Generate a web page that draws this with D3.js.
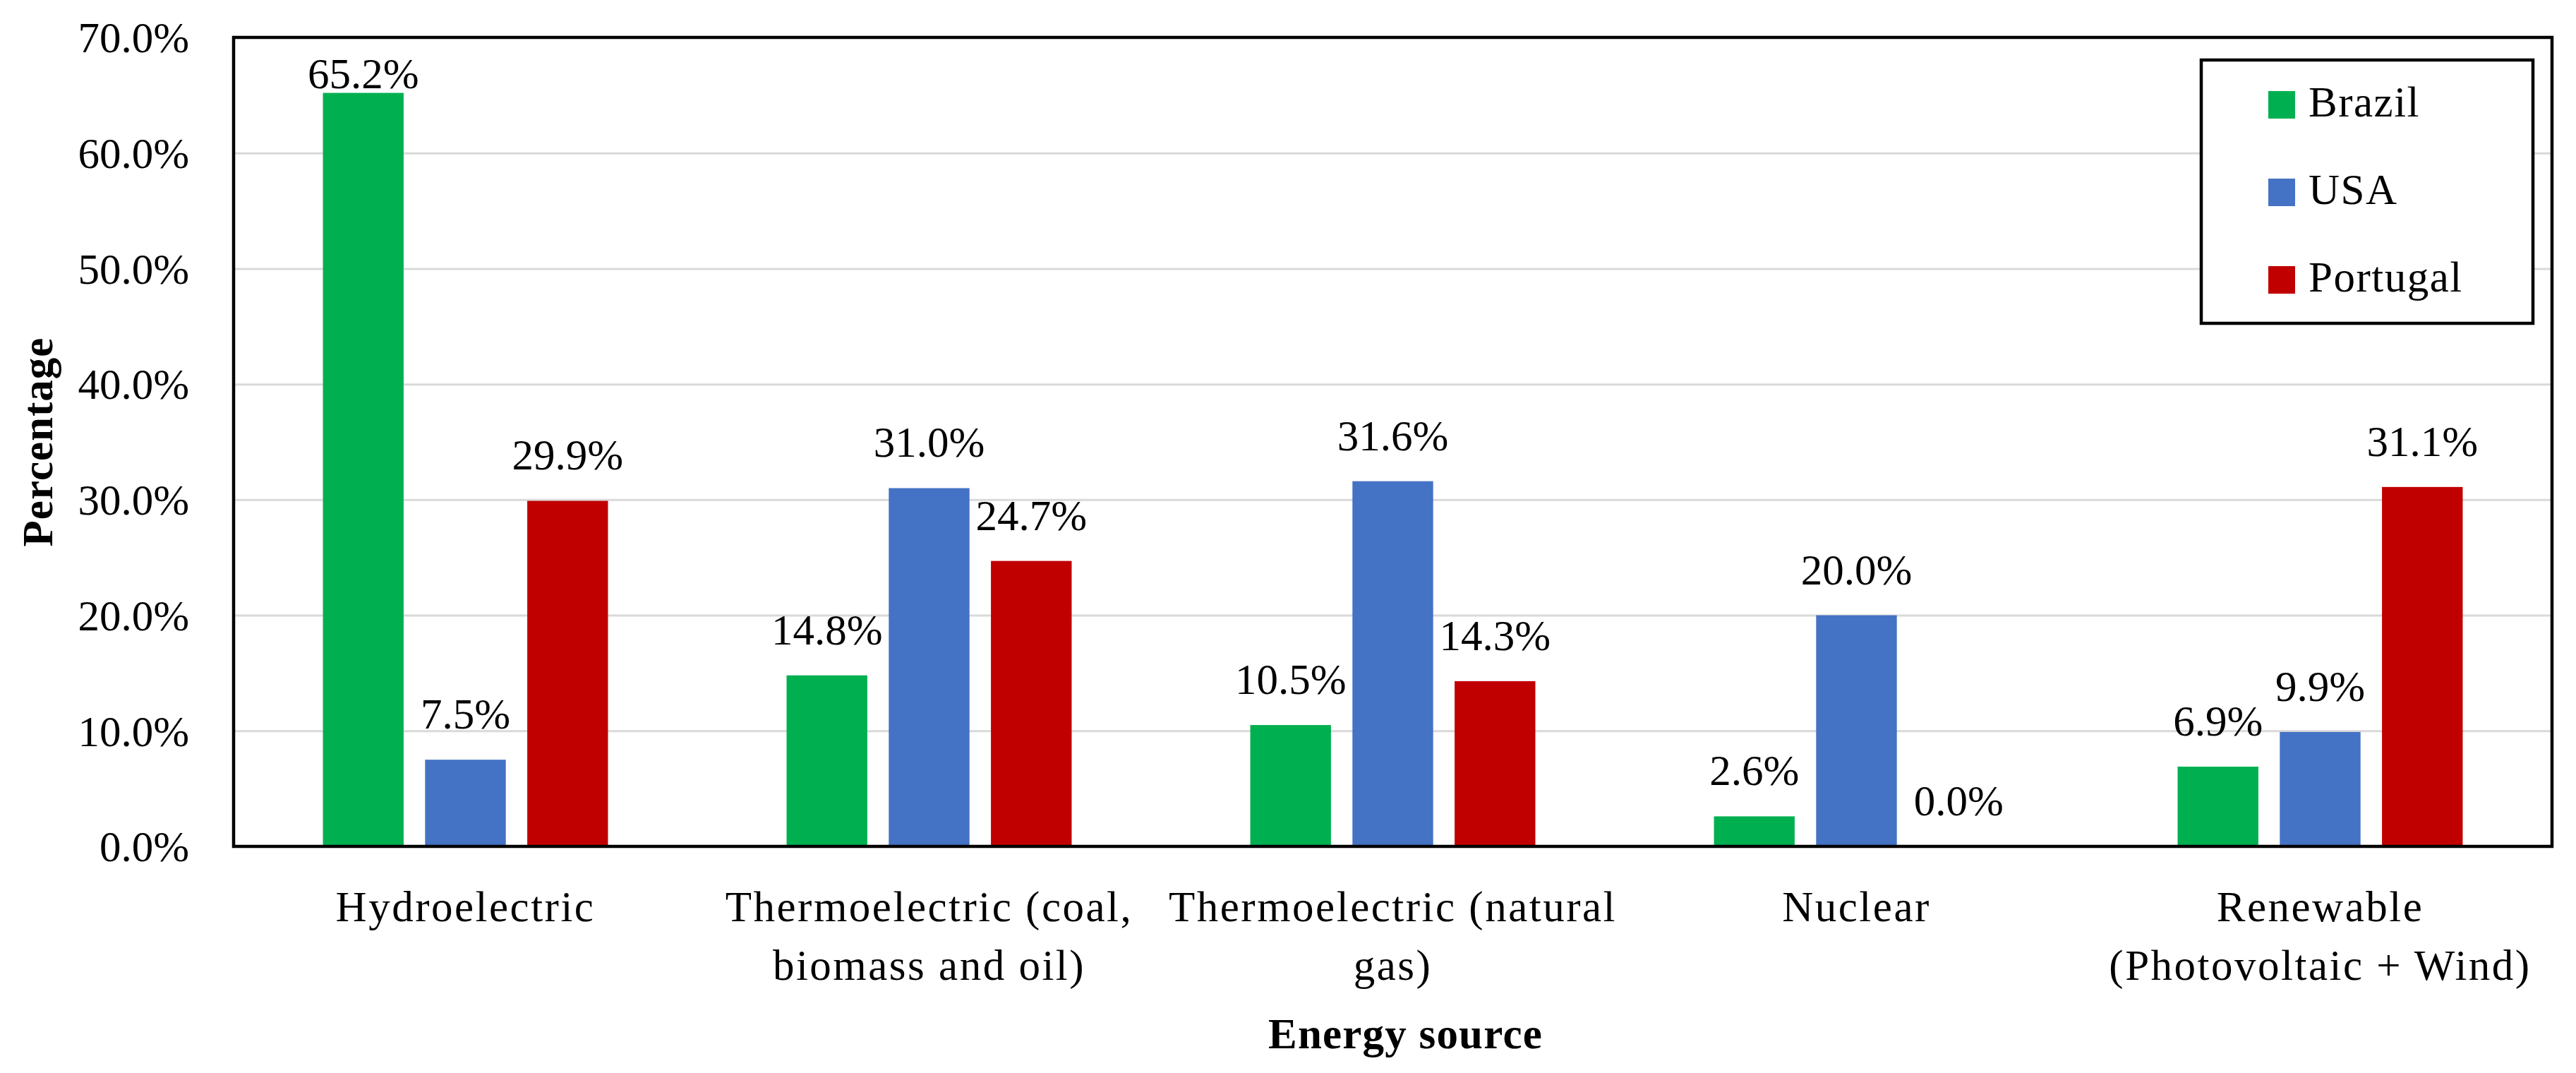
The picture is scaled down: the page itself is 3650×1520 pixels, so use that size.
<!DOCTYPE html>
<html>
<head>
<meta charset="utf-8">
<script src="https://cdn.jsdelivr.net/npm/d3@7"></script>
<style>
  body { margin: 0; background: #fff; }
  text { font-family: "Liberation Serif", "Times New Roman", serif; }
</style>
</head>
<body>
<svg id="chart"></svg>
<script>
// data
const categories = ["Hydroelectric", "Thermoelectric (coal, biomass and oil)", "Thermoelectric (natural gas)", "Nuclear", "Renewable (Photovoltaic + Wind)"];
const categoryLines = [["Hydroelectric"], ["Thermoelectric (coal,", "biomass and oil)"], ["Thermoelectric (natural", "gas)"], ["Nuclear"], ["Renewable", "(Photovoltaic + Wind)"]];
const series = ["Brazil", "USA", "Portugal"];
const brazil = [65.2, 14.8, 10.5, 2.6, 6.9];
const usa = [7.5, 31.0, 31.6, 20.0, 9.9];
const portugal = [29.9, 24.7, 14.3, 0.0, 31.1];
const yTicks = [0, 10, 20, 30, 40, 50, 60, 70];
const colors = ["#00B050", "#4472C4", "#C00000"];

const W = 3650, H = 1520;
const margin = { top: 53, right: 34, bottom: 321, left: 331 };
const FS = 61;

const svg = d3.select('#chart').attr('width', W).attr('height', H);

const values = [brazil, usa, portugal];
const rows = [];
categories.forEach((c, i) => {
  series.forEach((s, j) => rows.push({ cat: c, ser: s, v: values[j][i], color: colors[j] }));
});

const x0 = d3.scaleBand().domain(categories).range([margin.left, W - margin.right]).padding(0);
const x1 = d3.scaleBand().domain(series).range([0, x0.bandwidth()]).paddingInner(0.21).paddingOuter(0.874);
const y = d3.scaleLinear().domain([0, 70]).range([H - margin.bottom, margin.top]);

// gridlines
const grid = svg.append('g')
  .attr('transform', `translate(${margin.left},0)`)
  .call(d3.axisLeft(y).tickValues(yTicks).tickSize(-(W - margin.left - margin.right)).tickFormat(''));
grid.select('.domain').remove();
grid.selectAll('line').attr('stroke', '#d9d9d9').attr('stroke-width', 3);

// bars
svg.append('g')
  .selectAll('rect')
  .data(rows)
  .enter()
  .append('rect')
  .attr('x', d => x0(d.cat) + x1(d.ser))
  .attr('width', x1.bandwidth())
  .attr('y', d => y(d.v))
  .attr('height', d => y(0) - y(d.v))
  .attr('fill', d => d.color);

// value labels (kept inside the frame when the bar is too tall)
svg.append('g')
  .selectAll('text')
  .data(rows)
  .enter()
  .append('text')
  .attr('x', d => x0(d.cat) + x1(d.ser) + x1.bandwidth() / 2)
  .attr('y', d => Math.max(y(d.v) - 44, y(70) + 72))
  .attr('text-anchor', 'middle')
  .attr('font-size', FS)
  .attr('fill', '#000')
  .text(d => d.v.toFixed(1) + '%');

// y axis
const yAxis = svg.append('g')
  .attr('transform', `translate(${margin.left},0)`)
  .call(d3.axisLeft(y).tickValues(yTicks).tickSize(0).tickPadding(63).tickFormat(d => d.toFixed(1) + '%'));
yAxis.select('.domain').remove();
yAxis.attr('font-family', null).attr('font-size', null);
yAxis.selectAll('text').attr('font-size', FS).attr('fill', '#000').attr('dy', '0.34em');

// x axis (category labels)
const xAxis = svg.append('g')
  .attr('transform', `translate(0,${H - margin.bottom})`)
  .call(d3.axisBottom(x0).tickSize(0).tickFormat(''));
xAxis.select('.domain').remove();
xAxis.attr('font-family', null).attr('font-size', null);
xAxis.selectAll('.tick text').each(function(d, i) {
  const t = d3.select(this)
    .attr('y', 0).attr('dy', null)
    .attr('font-size', FS).attr('fill', '#000')
    .attr('letter-spacing', 2.5);
  categoryLines[categories.indexOf(d)].forEach((line, k) => {
    t.append('tspan').attr('x', 0).attr('y', 106 + k * 83).text(line);
  });
});

// frame
svg.append('rect')
  .attr('x', margin.left)
  .attr('y', margin.top)
  .attr('width', W - margin.left - margin.right)
  .attr('height', H - margin.top - margin.bottom)
  .attr('fill', 'none')
  .attr('stroke', '#000')
  .attr('stroke-width', 4.5);

// axis titles
svg.append('text')
  .attr('x', (margin.left + W - margin.right) / 2 + 18)
  .attr('y', 1485)
  .attr('text-anchor', 'middle')
  .attr('font-size', FS)
  .attr('font-weight', 'bold')
  .attr('letter-spacing', 1.2)
  .text('Energy source');

svg.append('text')
  .attr('transform', `translate(74,${(margin.top + H - margin.bottom) / 2}) rotate(-90)`)
  .attr('text-anchor', 'middle')
  .attr('font-size', FS)
  .attr('font-weight', 'bold')
  .attr('letter-spacing', 1)
  .text('Percentage');

// legend
const legend = svg.append('g').attr('transform', 'translate(3119,85)');
legend.append('rect')
  .attr('width', 470).attr('height', 373)
  .attr('fill', '#fff').attr('stroke', '#000').attr('stroke-width', 4.5);
const item = legend.selectAll('g.item')
  .data(series)
  .enter()
  .append('g')
  .attr('class', 'item')
  .attr('transform', (d, i) => `translate(95,${44 + i * 124})`);
item.append('rect')
  .attr('width', 38).attr('height', 39)
  .attr('fill', (d, i) => colors[i]);
item.append('text')
  .attr('x', 57).attr('y', 36)
  .attr('font-size', FS)
  .attr('letter-spacing', 1.5)
  .text(d => d);
</script>
</body>
</html>
